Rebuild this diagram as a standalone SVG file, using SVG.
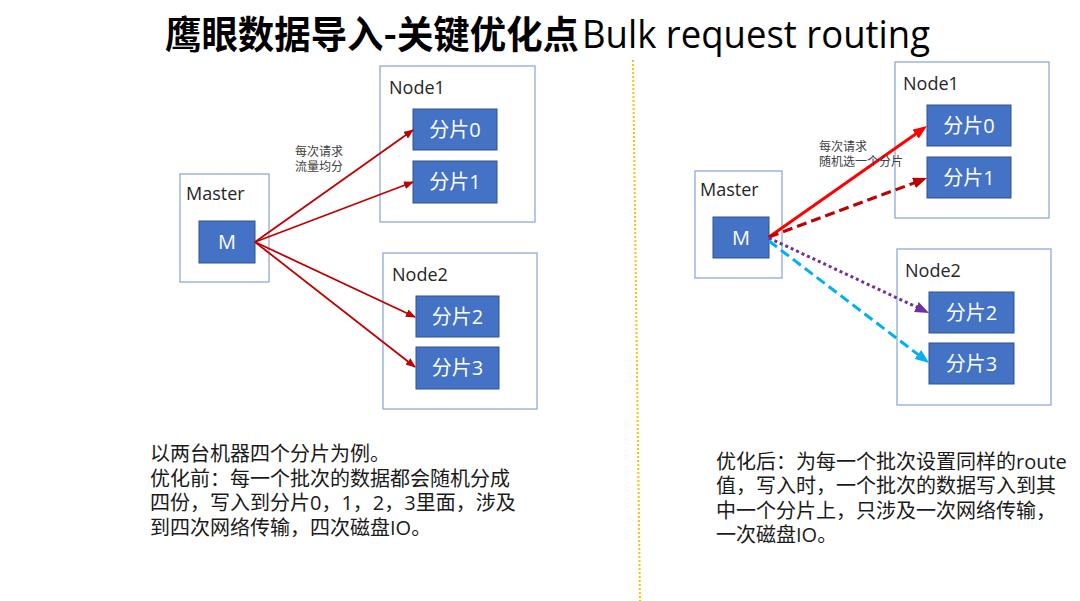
<svg xmlns="http://www.w3.org/2000/svg" width="1080" height="601" viewBox="0 0 1080 601">
<style>
.outer{fill:#FFFFFF;stroke:#8FAADC;stroke-width:1.3}
.shard{fill:#4472C4;stroke:#2F528F;stroke-width:1}
.shardtxt{font-family:"Open Sans","Noto Sans CJK SC",sans-serif;font-size:20px;fill:#FFFFFF;text-anchor:middle}
.lbl{font-family:"Open Sans","Noto Sans CJK SC",sans-serif;font-size:18px;fill:#262626}
.small{font-family:"Noto Sans CJK SC",sans-serif;font-size:12px;fill:#404040}
.body{font-family:"Open Sans","Noto Sans CJK SC",sans-serif;font-size:20px;fill:#1A1A1A}
</style>
<defs>
<marker id="aL" markerUnits="userSpaceOnUse" markerWidth="10" markerHeight="8" refX="9" refY="4" orient="auto"><path d="M0,0 L10,4 L0,8 z" fill="#C00000"/></marker>
<marker id="aR" markerUnits="userSpaceOnUse" markerWidth="14" markerHeight="11" refX="8" refY="5.5" orient="auto"><path d="M0,0 L14,5.5 L0,11 z" fill="#FF0000"/></marker>
<marker id="aD" markerUnits="userSpaceOnUse" markerWidth="14" markerHeight="11" refX="8" refY="5.5" orient="auto"><path d="M0,0 L14,5.5 L0,11 z" fill="#C00000"/></marker>
<marker id="aP" markerUnits="userSpaceOnUse" markerWidth="14" markerHeight="11" refX="8" refY="5.5" orient="auto"><path d="M0,0 L14,5.5 L0,11 z" fill="#7030A0"/></marker>
<marker id="aC" markerUnits="userSpaceOnUse" markerWidth="14" markerHeight="11" refX="8" refY="5.5" orient="auto"><path d="M0,0 L14,5.5 L0,11 z" fill="#00B0F0"/></marker>
</defs>
<rect width="1080" height="601" fill="#FFFFFF"/>
<g id="title">
<text x="165" y="48" font-family="Noto Sans CJK SC,sans-serif" font-size="38" font-weight="700" fill="#000000" textLength="414" lengthAdjust="spacingAndGlyphs">鹰眼数据导入-关键优化点</text>
<text x="582" y="48" font-family="Open Sans,sans-serif" font-size="38" fill="#000000" textLength="348" lengthAdjust="spacingAndGlyphs">Bulk request routing</text>
</g>
<line id="divider" x1="633" y1="60" x2="640" y2="601" stroke="#FFC000" stroke-width="2" stroke-dasharray="2 2"/>
<g id="left-master"><rect class="outer" x="180" y="174" width="89" height="108"/><text class="lbl" x="186" y="200">Master</text></g>
<g id="left-node1"><rect class="outer" x="380" y="66" width="155" height="156"/><text class="lbl" x="389" y="94">Node1</text></g>
<g id="left-node2"><rect class="outer" x="383" y="253" width="154" height="156"/><text class="lbl" x="392" y="281">Node2</text></g>
<g id="left-M"><rect class="shard" x="199" y="221" width="56" height="42"/><text class="shardtxt" x="227" y="249">M</text></g>
<g id="left-s0"><rect class="shard" x="413" y="109" width="84" height="41"/><text class="shardtxt" x="455" y="137">分片0</text></g>
<g id="left-s1"><rect class="shard" x="413" y="161" width="84" height="42"/><text class="shardtxt" x="455" y="189">分片1</text></g>
<g id="left-s2"><rect class="shard" x="416" y="296" width="83" height="41"/><text class="shardtxt" x="457.5" y="324">分片2</text></g>
<g id="left-s3"><rect class="shard" x="416" y="347" width="83" height="42"/><text class="shardtxt" x="457.5" y="375">分片3</text></g>
<g id="right-master"><rect class="outer" x="695" y="171" width="87" height="107"/><text class="lbl" x="700" y="196">Master</text></g>
<g id="right-node1"><rect class="outer" x="895" y="62" width="154" height="156"/><text class="lbl" x="903" y="90">Node1</text></g>
<g id="right-node2"><rect class="outer" x="897" y="249" width="154" height="156"/><text class="lbl" x="905" y="277">Node2</text></g>
<g id="right-M"><rect class="shard" x="713" y="217" width="56" height="41"/><text class="shardtxt" x="741" y="245">M</text></g>
<g id="right-s0"><rect class="shard" x="927" y="105" width="84" height="41"/><text class="shardtxt" x="969" y="133">分片0</text></g>
<g id="right-s1"><rect class="shard" x="927" y="157" width="84" height="41"/><text class="shardtxt" x="969" y="185">分片1</text></g>
<g id="right-s2"><rect class="shard" x="929" y="292" width="85" height="41"/><text class="shardtxt" x="971.5" y="320">分片2</text></g>
<g id="right-s3"><rect class="shard" x="929" y="343" width="85" height="41"/><text class="shardtxt" x="971.5" y="371">分片3</text></g>
<g id="connectors" fill="none">
<line x1="255" y1="242" x2="413" y2="130" stroke="#C00000" stroke-width="1.8" marker-end="url(#aL)"/>
<line x1="255" y1="242" x2="413" y2="182" stroke="#C00000" stroke-width="1.8" marker-end="url(#aL)"/>
<line x1="255" y1="242" x2="415" y2="317" stroke="#C00000" stroke-width="1.8" marker-end="url(#aL)"/>
<line x1="255" y1="242" x2="415" y2="367" stroke="#C00000" stroke-width="1.8" marker-end="url(#aL)"/>
<line x1="769" y1="237" x2="922.1" y2="129.5" stroke="#FF0000" stroke-width="3" marker-end="url(#aR)"/>
<line x1="769" y1="237" x2="921.4" y2="180.1" stroke="#C00000" stroke-width="3" stroke-dasharray="10 5" marker-end="url(#aD)"/>
<line x1="769" y1="238" x2="923.6" y2="310.4" stroke="#7030A0" stroke-width="3" stroke-dasharray="3 3" marker-end="url(#aP)"/>
<line x1="769" y1="241" x2="924.3" y2="359.3" stroke="#00B0F0" stroke-width="3" stroke-dasharray="10 5" marker-end="url(#aC)"/>
</g>
<g id="label-left"><text class="small" x="295" y="156">每次请求</text><text class="small" x="295" y="171">流量均分</text></g>
<g id="label-right"><text class="small" x="819" y="151">每次请求</text><text class="small" x="819" y="166">随机选一个分片</text></g>
<g id="note-left">
<text class="body" x="150" y="461">以两台机器四个分片为例。</text>
<text class="body" x="150" y="485.5">优化前：每一个批次的数据都会随机分成</text>
<text class="body" x="150" y="510">四份，写入到分片0，1，2，3里面，涉及</text>
<text class="body" x="150" y="534.5">到四次网络传输，四次磁盘IO。</text>
</g>
<g id="note-right">
<text class="body" x="716" y="469">优化后：为每一个批次设置同样的route</text>
<text class="body" x="716" y="493.3">值，写入时，一个批次的数据写入到其</text>
<text class="body" x="716" y="517.6">中一个分片上，只涉及一次网络传输，</text>
<text class="body" x="716" y="542">一次磁盘IO。</text>
</g>
</svg>
